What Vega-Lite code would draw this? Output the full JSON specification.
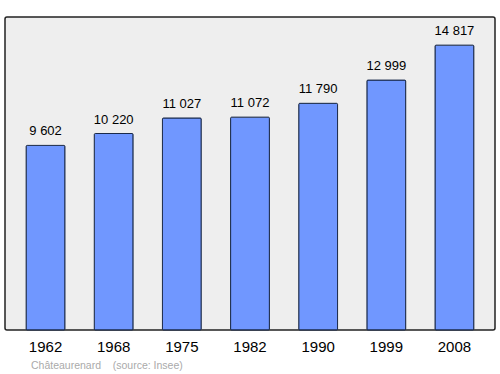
{
  "$schema": "https://vega.github.io/schema/vega-lite/v6.json",
  "width": 490,
  "height": 313,
  "autosize": "none",
  "padding": {"left": 5, "top": 17, "right": 5, "bottom": 44},
  "background": "white",
  "config": {
    "view": {"fill": "#eeeeee", "stroke": "#222222", "strokeWidth": 1.5, "cornerRadius": 2},
    "font": "Liberation Sans"
  },
  "title": {
    "text": "Châteaurenard\u00a0\u00a0\u00a0\u00a0(source: Insee)",
    "orient": "bottom",
    "anchor": "start",
    "dx": 26,
    "offset": 7,
    "fontSize": 10.5,
    "fontWeight": "normal",
    "color": "#aaaaaa",
    "font": "Liberation Sans"
  },
  "data": {
    "values": [
      {"year": "1962", "pop": 9602, "label": "9 602"},
      {"year": "1968", "pop": 10220, "label": "10 220"},
      {"year": "1975", "pop": 11027, "label": "11 027"},
      {"year": "1982", "pop": 11072, "label": "11 072"},
      {"year": "1990", "pop": 11790, "label": "11 790"},
      {"year": "1999", "pop": 12999, "label": "12 999"},
      {"year": "2008", "pop": 14817, "label": "14 817"}
    ]
  },
  "encoding": {
    "x": {
      "field": "year",
      "type": "ordinal",
      "sort": null,
      "scale": {"paddingInner": 0.43, "paddingOuter": 0.31},
      "axis": {
        "title": null,
        "ticks": false,
        "domain": false,
        "labelAngle": 0,
        "labelFontSize": 15,
        "labelColor": "#000000",
        "labelPadding": 9,
        "labelFont": "Liberation Sans"
      }
    },
    "y": {
      "field": "pop",
      "type": "quantitative",
      "scale": {"domain": [0, 16280], "nice": false},
      "axis": null
    }
  },
  "layer": [
    {
      "mark": {"type": "bar", "fill": "#7097ff", "stroke": "#1a2a4a", "strokeWidth": 1, "cornerRadius": 1}
    },
    {
      "mark": {"type": "text", "baseline": "alphabetic", "dy": -10, "fontSize": 13, "color": "#000000", "font": "Liberation Sans"},
      "encoding": {"text": {"field": "label"}}
    }
  ]
}
